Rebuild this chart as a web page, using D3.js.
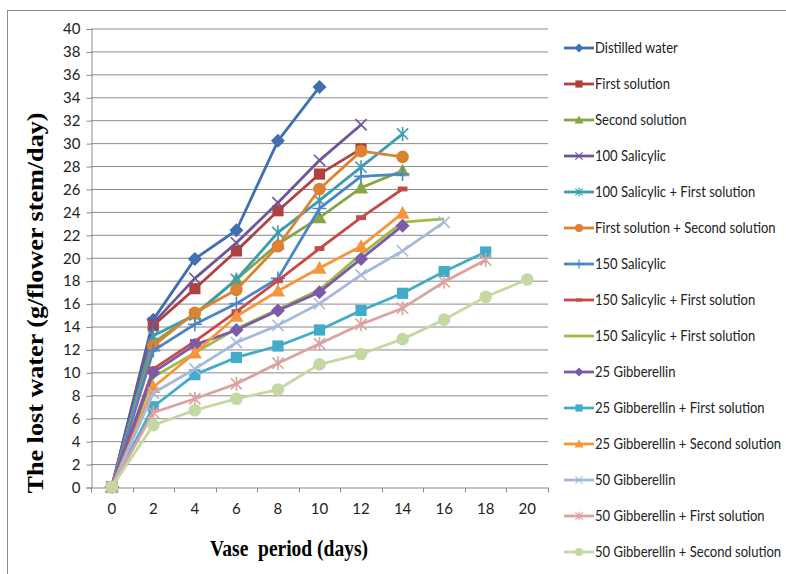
<!DOCTYPE html>
<html>
<head>
<meta charset="utf-8">
<script src="https://cdn.jsdelivr.net/npm/d3@7"></script>
<style>
  body { margin: 0; background: #fff; }
  svg { display: block; }
  .tick-label { font-family: Lato, "DejaVu Sans Condensed", sans-serif; font-size: 15px; fill: #222; }
  .legend-label { font-family: Lato, "DejaVu Sans Condensed", sans-serif; font-size: 15px; fill: #222; }
  .title { font-family: "Liberation Serif", "Times New Roman", serif; font-weight: bold; font-size: 24px; fill: #000; }
</style>
</head>
<body>
<div id="chart"></div>
<script>
const width = 786;
const height = 574;

const days = [0, 2, 4, 6, 8, 10, 12, 14, 16, 18, 20];
const yTicks = d3.range(0, 41, 2);

// lost water per day of vase life
const distilledWater      = [0, 14.6, 19.9, 22.4, 30.2, 34.9];
const firstSolution       = [0, 14.1, 17.3, 20.6, 24.1, 27.3, 29.5];
const secondSolution      = [0, 12.6, 15.1, 18.1, 21.2, 23.5, 26.1, 27.6];
const salicylic100        = [0, 14.3, 18.2, 21.3, 24.8, 28.5, 31.6];
const salicylic100First   = [0, 13.2, 15.0, 18.1, 22.2, 25.0, 27.9, 30.8];
const firstSecond         = [0, 12.3, 15.2, 17.2, 21.0, 26.0, 29.3, 28.8];
const salicylic150        = [0, 11.9, 14.2, 16.0, 18.2, 24.3, 27.1, 27.3];
const salicylic150First   = [0, 10.3, 12.7, 15.3, 18.0, 20.8, 23.5, 26.0];
const salicylic150FirstB  = [0, 9.6, 11.7, 13.8, 15.5, 17.2, 20.3, 23.1, 23.4];
const gibberellin25       = [0, 10.0, 12.4, 13.7, 15.4, 17.0, 19.9, 22.8];
const gibberellin25First  = [0, 7.0, 9.8, 11.3, 12.3, 13.7, 15.4, 16.9, 18.8, 20.5];
const gibberellin25Second = [0, 8.7, 11.7, 14.9, 17.1, 19.1, 21.0, 23.9];
const gibberellin50       = [0, 8.2, 10.3, 12.6, 14.1, 16.0, 18.5, 20.6, 23.1];
const gibberellin50First  = [0, 6.5, 7.7, 9.0, 10.8, 12.5, 14.2, 15.6, 17.9, 19.8];
const gibberellin50Second = [0, 5.4, 6.7, 7.7, 8.5, 10.7, 11.6, 12.9, 14.6, 16.6, 18.1];

const seriesNames = [
  "Distilled water", "First solution", "Second solution", "100 Salicylic",
  "100 Salicylic + First solution", "First solution + Second solution", "150 Salicylic",
  "150 Salicylic + First solution", "150 Salicylic + First solution", "25 Gibberellin",
  "25 Gibberellin + First solution", "25 Gibberellin + Second solution", "50 Gibberellin",
  "50 Gibberellin + First solution", "50 Gibberellin + Second solution"
];
const seriesValues = [
  distilledWater, firstSolution, secondSolution, salicylic100, salicylic100First,
  firstSecond, salicylic150, salicylic150First, salicylic150FirstB, gibberellin25,
  gibberellin25First, gibberellin25Second, gibberellin50, gibberellin50First, gibberellin50Second
];
const colors = [
  "#4070b0", "#b0413e", "#86a544", "#6f5594", "#3c9db2", "#dc8332", "#4a86c6",
  "#c64a47", "#9dbb45", "#7d5aa8", "#42abc9", "#f7953c", "#a6b9dc", "#daa3a1", "#c5d8a2"
];
const markers = [
  "diamond", "square", "triangle", "x", "star", "circle", "plus",
  "dash", "none", "diamond", "square", "triangle", "x", "star", "circle"
];

const series = seriesNames.map((name, i) => ({
  name,
  color: colors[i],
  marker: markers[i],
  points: seriesValues[i].map((v, j) => ({ day: days[j], value: v }))
}));

const svg = d3.select("#chart").append("svg")
  .attr("width", width)
  .attr("height", height);

// outer chart border
svg.append("rect")
  .attr("x", 7.5).attr("y", 10.5)
  .attr("width", 840).attr("height", 640)
  .attr("fill", "none").attr("stroke", "#8c8c8c");

const x = d3.scaleBand().domain(days).range([91, 548]);
const y = d3.scaleLinear().domain([0, 40]).range([487, 28.5]);
const cx = d => x(d) + x.bandwidth() / 2;

// gridlines
svg.append("g")
  .selectAll("line")
  .data(yTicks.filter(t => t > 0))
  .enter().append("line")
  .attr("x1", 91).attr("x2", 548)
  .attr("y1", d => y(d) + 0.5).attr("y2", d => y(d) + 0.5)
  .attr("stroke", "#8a8a8a");

// y axis
const yAxis = svg.append("g")
  .attr("transform", "translate(91.5,0.5)")
  .call(d3.axisLeft(y).tickValues(yTicks).tickSize(5).tickPadding(6));
yAxis.select(".domain").attr("stroke", "#8a8a8a");
yAxis.selectAll(".tick line").attr("stroke", "#8a8a8a");
yAxis.selectAll(".tick text").attr("class", "tick-label").attr("font-family", null).attr("font-size", null);

// x axis with ticks at category boundaries
const xAxis = svg.append("g")
  .attr("transform", "translate(0,487.5)")
  .call(d3.axisBottom(x).tickSize(0).tickPadding(16));
xAxis.select(".domain").attr("stroke", "#8a8a8a");
xAxis.selectAll(".tick text").attr("class", "tick-label").attr("font-family", null).attr("font-size", null);
xAxis.selectAll(".boundary")
  .data(days.map(d => x(d)).concat([x.range()[1]]))
  .enter().append("line")
  .attr("class", "boundary")
  .attr("x1", d => Math.round(d) + 0.5).attr("x2", d => Math.round(d) + 0.5)
  .attr("y1", 0).attr("y2", 5)
  .attr("stroke", "#8a8a8a");

function markerPath(type, s) {
  switch (type) {
    case "diamond": return `M0,${-s}L${s},0L0,${s}L${-s},0Z`;
    case "square": return `M${-s * 0.8},${-s * 0.8}H${s * 0.8}V${s * 0.8}H${-s * 0.8}Z`;
    case "triangle": return `M0,${-s}L${s},${s * 0.8}L${-s},${s * 0.8}Z`;
    case "circle": return `M${s * 0.9},0A${s * 0.9},${s * 0.9} 0 1,1 ${-s * 0.9},0A${s * 0.9},${s * 0.9} 0 1,1 ${s * 0.9},0Z`;
    case "x": return `M${-s * 0.8},${-s * 0.8}L${s * 0.8},${s * 0.8}M${-s * 0.8},${s * 0.8}L${s * 0.8},${-s * 0.8}`;
    case "star": return `M${-s * 0.8},${-s * 0.8}L${s * 0.8},${s * 0.8}M${-s * 0.8},${s * 0.8}L${s * 0.8},${-s * 0.8}M0,${-s}V${s}`;
    case "plus": return `M${-s},0H${s}M0,${-s}V${s}`;
    case "dash": return `M${-s * 0.7},${-s * 0.35}H${s * 0.7}V${s * 0.35}H${-s * 0.7}Z`;
    default: return "";
  }
}
const stroked = t => t === "x" || t === "star" || t === "plus";

const line = d3.line().x(d => cx(d.day)).y(d => y(d.value));

const plot = svg.append("g");
series.forEach(s => {
  const g = plot.append("g");
  g.append("path")
    .attr("d", line(s.points))
    .attr("fill", "none")
    .attr("stroke", s.color)
    .attr("stroke-width", 2.8)
    .attr("stroke-linejoin", "round");
  g.selectAll(".mark")
    .data(s.points)
    .enter().append("path")
    .attr("class", "mark")
    .attr("transform", d => `translate(${cx(d.day)},${y(d.value)})`)
    .attr("d", markerPath(s.marker, 7))
    .attr("fill", stroked(s.marker) ? "none" : s.color)
    .attr("stroke", s.color)
    .attr("stroke-width", stroked(s.marker) ? 1.6 : 0);
});

// legend
const legend = svg.append("g").attr("transform", "translate(564,0)");
const legendY = d3.scalePoint().domain(d3.range(series.length)).range([48, 552]);
series.forEach((s, i) => {
  const g = legend.append("g").attr("transform", `translate(0,${legendY(i)})`);
  g.append("line")
    .attr("x1", 0).attr("x2", 30)
    .attr("stroke", s.color).attr("stroke-width", 2.8);
  g.append("path")
    .attr("transform", "translate(15,0)")
    .attr("d", markerPath(s.marker, 4.5))
    .attr("fill", stroked(s.marker) ? "none" : s.color)
    .attr("stroke", s.color)
    .attr("stroke-width", stroked(s.marker) ? 1.2 : 0);
  g.append("text")
    .attr("class", "legend-label")
    .attr("transform", "translate(31,0) scale(0.87,1)")
    .attr("dy", "0.35em")
    .text(s.name);
});

// axis titles
svg.append("text")
  .attr("class", "title")
  .attr("transform", "translate(43,303) rotate(-90)")
  .attr("text-anchor", "middle")
  .attr("textLength", 381)
  .attr("lengthAdjust", "spacingAndGlyphs")
  .text("The lost water (g/flower stem/day)");

svg.append("text")
  .attr("class", "title")
  .attr("x", 289)
  .attr("y", 556)
  .attr("text-anchor", "middle")
  .attr("textLength", 158)
  .attr("lengthAdjust", "spacingAndGlyphs")
  .text("Vase\u00a0 period (days)");
</script>
</body>
</html>
